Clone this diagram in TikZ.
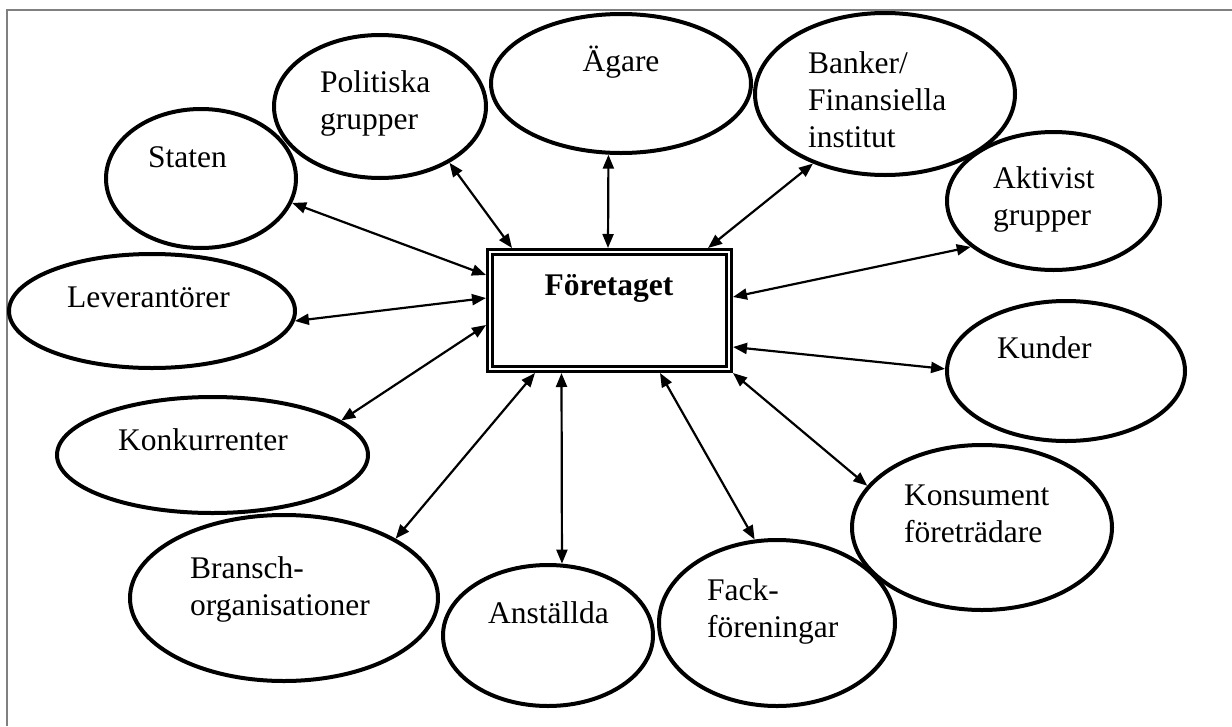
\documentclass[tikz,border=0pt]{standalone}
\usepackage{fontspec}
\setmainfont{Liberation Serif}
\usetikzlibrary{shapes.geometric,arrows.meta}
\begin{document}
\begin{tikzpicture}[x=1pt,y=-1pt,
  oval/.style={ellipse,draw,line width=4pt,inner sep=0pt},
  lbl/.style={inner sep=0pt,anchor=base west,align=left,font=\fontsize{31.5}{37}\selectfont},
  link/.style={line width=2.2pt,{Triangle[length=14pt,width=11pt]}-{Triangle[length=14pt,width=11pt]}},
  frameline/.style={draw={rgb,255:red,128;green,128;blue,128},line width=1.5pt}]
\useasboundingbox (0,0) rectangle (1232,726);
\draw[frameline] (7,726) -- (7,10) -- (1232,10);

% central box
\node[rectangle,draw,double,line width=3.2pt,double distance=1.6pt,
      minimum width=239pt,minimum height=117pt,inner sep=0pt,outer sep=4pt] (box) at (609.5,310.5) {};
\node[inner sep=0pt,anchor=base,font=\bfseries\fontsize{31.5}{37}\selectfont] (boxlbl) at (609,295) {Företaget};

% ellipses
\node[oval,minimum width=190pt,minimum height=139pt] (staten) at (201,178.5) {};
\node[oval,minimum width=212pt,minimum height=143pt] (pol) at (380,106.5) {};
\node[oval,minimum width=260pt,minimum height=139pt] (agare) at (621,83.5) {};
\node[oval,minimum width=260pt,minimum height=162pt] (bank) at (885,94) {};
\node[oval,minimum width=213pt,minimum height=138pt] (akt) at (1053.5,201) {};
\node[oval,minimum width=286pt,minimum height=114pt] (lev) at (152,311) {};
\node[oval,minimum width=238pt,minimum height=140pt] (kund) at (1066,371) {};
\node[oval,minimum width=311pt,minimum height=116pt] (konk) at (212.5,455) {};
\node[oval,minimum width=308pt,minimum height=166pt] (bransch) at (284,598) {};
\node[oval,minimum width=210pt,minimum height=141pt] (anst) at (548,635.5) {};
\node[oval,minimum width=236pt,minimum height=166pt] (fack) at (777,623) {};
\node[oval,minimum width=260pt,minimum height=165pt] (kons) at (982,527.5) {};

% labels
\node[lbl] (tstaten) at (148,167) {Staten};
\node[lbl] (tpol) at (320,129) {Politiska\\grupper};
\node[lbl,anchor=base] (tagare) at (621,71) {Ägare};
\node[lbl] (tbank) at (808,147) {Banker/\\Finansiella\\institut};
\node[lbl] (takt) at (993,225) {Aktivist\\grupper};
\node[lbl] (tlev) at (67,307) {Leverantörer};
\node[lbl] (tkund) at (997,358) {Kunder};
\node[lbl] (tkonk) at (118,450) {Konkurrenter};
\node[lbl] (tbransch) at (190,615) {Bransch-\\organisationer};
\node[lbl] (tanst) at (488,623) {Anställda};
\node[lbl] (tfack) at (707,637) {Fack-\\föreningar};
\node[lbl] (tkons) at (904,542) {Konsument\\företrädare};

% connectors
\draw[link] (staten.-15.4) -- ([yshift=35.5pt]box.west);
\draw[link] (pol.-39.6) -- ([xshift=-97.5pt]box.north);
\draw[link] (agare.260.6) -- ([xshift=-1.5pt]box.north);
\draw[link] (bank.224.5) -- ([xshift=98.5pt]box.north);
\draw[link] (akt.209.7) -- ([yshift=13.5pt]box.east);
\draw[link] (lev.-4.7) -- ([yshift=12.5pt]box.west);
\draw[link] (kund.179.5) -- ([yshift=-36.5pt]box.east);
\draw[link] (konk.15.4) -- ([yshift=-14.5pt]box.west);
\draw[link] (bransch.28.8) -- ([xshift=-74.5pt]box.south);
\draw[link] (anst.79.2) -- ([xshift=-48pt]box.south);
\draw[link] (fack.105.8) -- ([xshift=50.5pt]box.south);
\draw[link] (kons.160.6) -- (box.south east);
\end{tikzpicture}
\end{document}
